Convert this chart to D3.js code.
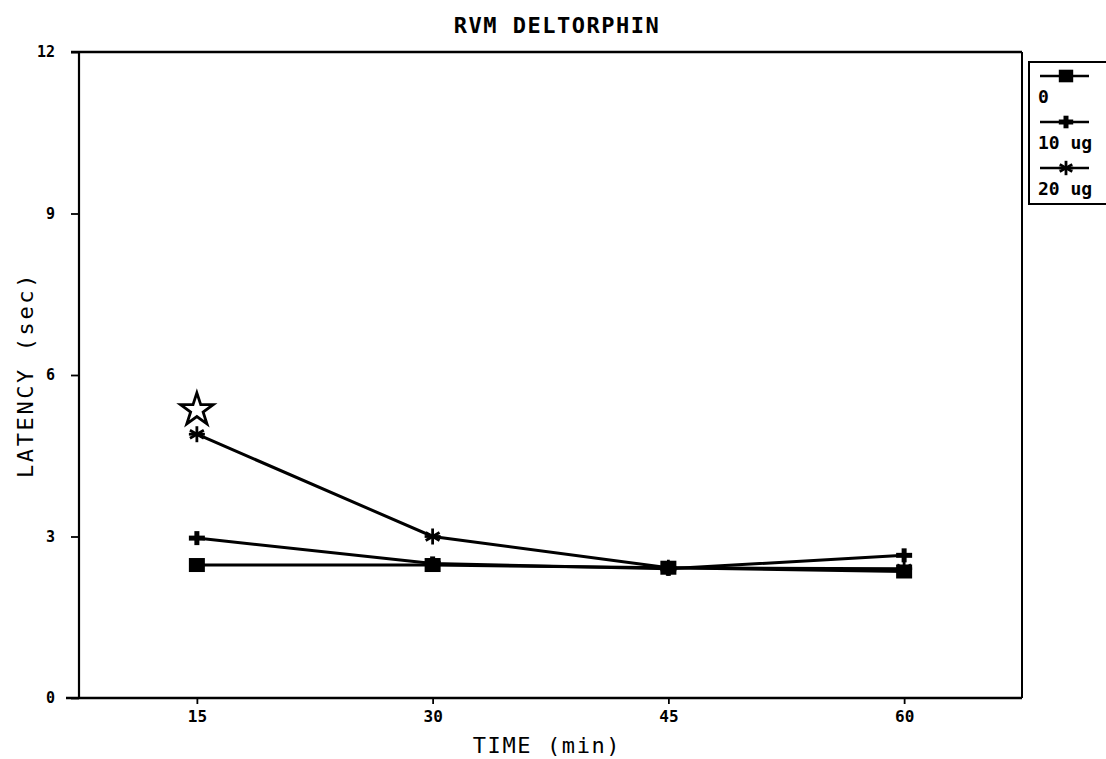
<!DOCTYPE html>
<html><head><meta charset="utf-8">
<script src="https://cdn.jsdelivr.net/npm/d3@7"></script>
<style>
body{margin:0;background:#fff;}
svg{display:block;}
text{font-family:"DejaVu Sans Mono","Liberation Mono",monospace;fill:#000;}
</style></head>
<body>
<svg id="chart" width="1106" height="759"></svg>
<script>
const times = [15, 30, 45, 60];
const xTicks = [15, 30, 45, 60];
const yTicks = [0, 3, 6, 9, 12];
const seriesNames = ["0", "10 ug", "20 ug"];
const values0 = [2.47, 2.47, 2.42, 2.35];
const values10 = [2.97, 2.50, 2.40, 2.65];
const values20 = [4.90, 3.00, 2.42, 2.40];
const sigStar = {t: 15, v: 5.35};
const titleText = "RVM DELTORPHIN";
const xLabel = "TIME (min)";
const yLabel = "LATENCY (sec)";

const series = [
  {name: seriesNames[0], vals: values0, sym: "square"},
  {name: seriesNames[1], vals: values10, sym: "plus"},
  {name: seriesNames[2], vals: values20, sym: "aster"}
];

const svg = d3.select("#chart");
const L = 79, R = 1022, T = 52, B = 698;
const x = d3.scaleLinear().domain([7.5, 67.5]).range([L, R]);
const y = d3.scaleLinear().domain([0, 12]).range([B, T]);

// frame
svg.append("line").attr("x1", 71).attr("x2", R).attr("y1", T).attr("y2", T).attr("stroke", "#000").attr("stroke-width", 2.5);
svg.append("line").attr("x1", R).attr("x2", R).attr("y1", T).attr("y2", B).attr("stroke", "#000").attr("stroke-width", 2);

// axes
const yAxis = svg.append("g").attr("transform", `translate(${L},0)`)
  .call(d3.axisLeft(y).tickValues(yTicks).tickSize(8).tickPadding(16).tickFormat(d3.format("d")));
const xAxis = svg.append("g").attr("transform", `translate(0,${B})`)
  .call(d3.axisBottom(x).tickValues(xTicks).tickSize(6).tickPadding(7).tickFormat(d3.format("d")));
[yAxis, xAxis].forEach(g => {
  g.select(".domain").remove();
  g.selectAll(".tick line").attr("stroke", "#000").attr("stroke-width", 1.8);
  g.selectAll(".tick text").attr("font-size", 15).attr("font-weight", "bold").style("font-family", '"DejaVu Sans Mono",monospace');
});
xAxis.selectAll(".tick text").attr("font-size", 16);
svg.append("line").attr("x1", L).attr("x2", L).attr("y1", T).attr("y2", B).attr("stroke", "#000").attr("stroke-width", 2.2);
svg.append("line").attr("x1", 66).attr("x2", R).attr("y1", B).attr("y2", B).attr("stroke", "#000").attr("stroke-width", 2.5);

// titles
svg.append("text").attr("x", 557).attr("y", 33).attr("text-anchor", "middle")
  .attr("font-size", 22).attr("font-weight", "bold").attr("letter-spacing", 1.5).text(titleText);
svg.append("text").attr("x", 547).attr("y", 753).attr("text-anchor", "middle")
  .attr("font-size", 22).attr("letter-spacing", 1.6).text(xLabel);
svg.append("text").attr("transform", "translate(33,375) rotate(-90)").attr("text-anchor", "middle")
  .attr("font-size", 22).attr("letter-spacing", 2.6).text(yLabel);

// markers
function drawSym(g, sym, cx, cy, scale) {
  const s = scale || 1;
  if (sym === "square") {
    g.append("rect").attr("x", cx - 8 * s).attr("y", cy - 7 * s).attr("width", 16 * s).attr("height", 14 * s).attr("fill", "#000");
  } else if (sym === "plus") {
    g.append("line").attr("x1", cx).attr("x2", cx).attr("y1", cy - 7 * s).attr("y2", cy + 7 * s).attr("stroke", "#000").attr("stroke-width", 5);
    g.append("line").attr("x1", cx - 8 * s).attr("x2", cx + 8 * s).attr("y1", cy).attr("y2", cy).attr("stroke", "#000").attr("stroke-width", 5);
  } else {
    const r = 8 * s;
    [0, 60, 120].forEach(a => {
      const rad = a * Math.PI / 180;
      g.append("line").attr("x1", cx - r * Math.sin(rad)).attr("x2", cx + r * Math.sin(rad))
        .attr("y1", cy - r * Math.cos(rad)).attr("y2", cy + r * Math.cos(rad))
        .attr("stroke", "#000").attr("stroke-width", 2.8);
    });
    g.append("line").attr("x1", cx - r).attr("x2", cx + r).attr("y1", cy).attr("y2", cy).attr("stroke", "#000").attr("stroke-width", 2.8);
  }
}

const line = d3.line().x((d, i) => x(times[i])).y(d => y(d));
const plot = svg.append("g");
series.forEach(s => {
  plot.append("path").datum(s.vals).attr("d", line).attr("fill", "none").attr("stroke", "#000").attr("stroke-width", 3);
});
series.forEach(s => {
  s.vals.forEach((v, i) => drawSym(plot, s.sym, x(times[i]), y(v)));
});

// significance star (outline)
const starPath = d3.symbol().type(d3.symbolStar).size(330)();
svg.append("path").attr("d", starPath)
  .attr("transform", `translate(${x(sigStar.t)},${y(sigStar.v)})`)
  .attr("fill", "#fff").attr("stroke", "#000").attr("stroke-width", 2.8);

// legend
const lg = svg.append("g");
const lx = 1029, ly = 62, lb = 204;
lg.append("rect").attr("x", lx).attr("y", ly).attr("width", 100).attr("height", lb - ly)
  .attr("fill", "#fff").attr("stroke", "#000").attr("stroke-width", 2);
const rowLine = [76, 122, 168];
const rowText = [103, 149, 195];
series.forEach((s, i) => {
  lg.append("line").attr("x1", 1040).attr("x2", 1089).attr("y1", rowLine[i]).attr("y2", rowLine[i]).attr("stroke", "#000").attr("stroke-width", 2.5);
  drawSym(lg, s.sym, 1066, rowLine[i], 0.9);
  lg.append("text").attr("x", 1038).attr("y", rowText[i]).attr("font-size", 18).attr("font-weight", "bold").text(s.name);
});
</script>
</body></html>
